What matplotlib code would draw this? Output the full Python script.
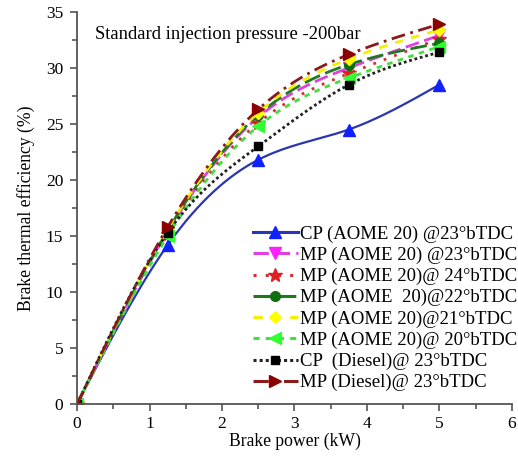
import numpy as np
import matplotlib.pyplot as plt

plt.rcParams['font.family'] = ['Liberation Serif', 'DejaVu Serif']

power = [0, 1.25, 2.5, 3.75, 5.0]

labels = ['CP (AOME 20) @23°bTDC',
          'MP (AOME 20) @23°bTDC',
          'MP (AOME 20)@ 24°bTDC',
          'MP (AOME  20)@22°bTDC',
          'MP (AOME 20)@21°bTDC',
          'MP (AOME 20)@ 20°bTDC',
          'CP  (Diesel)@ 23°bTDC',
          'MP (Diesel)@ 23°bTDC']

cp_aome23 = [0, 14.2, 21.8, 24.5, 28.5]
mp_aome23 = [0, 15.4, 25.6, 30.0, 32.9]
mp_aome24 = [0, 15.2, 25.1, 29.5, 32.6]
mp_aome22 = [0, 15.5, 25.8, 30.3, 32.2]
mp_aome21 = [0, 15.6, 26.0, 30.8, 33.4]
mp_aome20 = [0, 15.0, 24.8, 29.1, 31.9]
cp_diesel = [0, 15.3, 23.0, 28.5, 31.4]
mp_diesel = [0, 15.8, 26.3, 31.2, 33.9]

series = [cp_aome23, mp_aome23, mp_aome24, mp_aome22,
          mp_aome21, mp_aome20, cp_diesel, mp_diesel]

colors = ['#2a35b0', '#e040e0', '#d03030', '#1f7a1f',
          '#f2f000', '#40e040', '#222222', '#8b1a1a']
mcolors = ['#1020ff', '#ff20ff', '#e02020', '#107010',
           '#ffff00', '#30ff30', '#000000', '#8b0000']
styles = ['-', (0, (5, 2)), (0, (1, 3)), (0, (6, 2)),
          (0, (3, 3)), (0, (2, 2)), (0, (1, 1)), (0, (5, 2, 1, 2))]
markers = ['^', 'v', '*', 'o', 'D', '<', 's', '>']
msizes = [8, 8, 10, 7, 6, 8, 6, 8]


def spline(x, y, n=200):
    # natural cubic spline, for drawing smooth lines only
    x = np.asarray(x, float)
    y = np.asarray(y, float)
    h = np.diff(x)
    k = len(x)
    A = np.zeros((k, k))
    b = np.zeros(k)
    A[0, 0] = A[-1, -1] = 1
    for i in range(1, k - 1):
        A[i, i - 1] = h[i - 1]
        A[i, i] = 2 * (h[i - 1] + h[i])
        A[i, i + 1] = h[i]
        b[i] = 6 * ((y[i + 1] - y[i]) / h[i] - (y[i] - y[i - 1]) / h[i - 1])
    M = np.linalg.solve(A, b)
    xs = np.linspace(x[0], x[-1], n)
    idx = np.clip(np.searchsorted(x, xs) - 1, 0, k - 2)
    x0, x1 = x[idx], x[idx + 1]
    hh = x1 - x0
    ys = (M[idx] * (x1 - xs) ** 3 / (6 * hh) + M[idx + 1] * (xs - x0) ** 3 / (6 * hh)
          + (y[idx] / hh - M[idx] * hh / 6) * (x1 - xs)
          + (y[idx + 1] / hh - M[idx + 1] * hh / 6) * (xs - x0))
    return xs, ys


fig = plt.figure(figsize=(5.18, 4.57), dpi=100)
ax = fig.add_axes([0.149, 0.116, 0.839, 0.858])

for y, lab, c, mc, ls, m, ms in zip(series, labels, colors, mcolors, styles, markers, msizes):
    xs, ys = spline(power, y)
    ax.plot(xs, ys, color=c, ls=ls, lw=1.6 if ls == '-' else 2.0)
    ax.plot(power, y, ls='none', marker=m, color=mc, ms=ms)
    ax.plot([], [], color=c, ls=ls, lw=2.2, marker=m, mfc=mc, mec=mc, ms=ms, label=lab)

ax.set_xlim(0, 6)
ax.set_ylim(0, 35)
ax.set_xticks(range(0, 7))
ax.set_yticks(range(0, 36, 5))
ax.set_xticks(np.arange(0.5, 6, 1), minor=True)
ax.set_yticks(np.arange(2.5, 35, 5), minor=True)
ax.tick_params(direction='out', labelsize=12.5, length=5, width=1.2, pad=4,
               color='#555555', top=False, right=False)
ax.tick_params(which='minor', direction='out', length=3.5, width=1.2, color='#555555')
ax.tick_params(axis='y', pad=5)
ax.spines['top'].set_visible(False)
ax.spines['right'].set_visible(False)
for s in ['left', 'bottom']:
    ax.spines[s].set_color('#555555')
    ax.spines[s].set_linewidth(1.3)

ax.set_xlabel('Brake power (kW)', fontsize=12.7, labelpad=0)
ax.set_ylabel('Brake thermal efficiency (%)', fontsize=12.7, labelpad=8)
ax.text(0.04, 0.965, 'Standard injection pressure -200bar', transform=ax.transAxes,
        fontsize=13.4, va='top')

ax.legend(loc='lower right', bbox_to_anchor=(1.012, 0.032), frameon=False,
          fontsize=13.5, handlelength=2.4, handletextpad=0.1, labelspacing=0.21,
          borderaxespad=0, borderpad=0)

fig.savefig('out.png', dpi=100)
